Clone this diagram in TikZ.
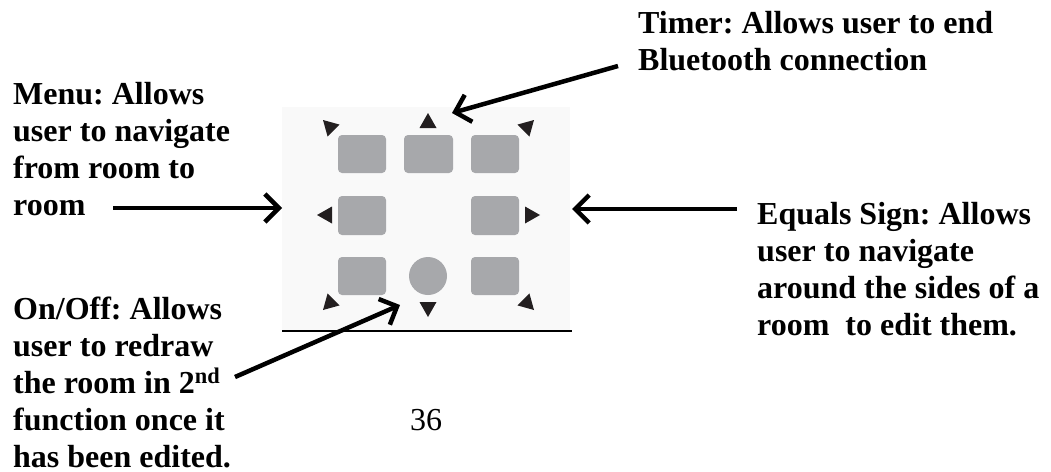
\documentclass[tikz,border=0pt]{standalone}
\usepackage{fontspec}
\setmainfont{Liberation Serif}
\usetikzlibrary{arrows.meta}
\definecolor{keygray}{HTML}{A7A8AB}
\definecolor{panelgray}{HTML}{F9F9F9}
\definecolor{tridark}{HTML}{231F20}
\tikzset{
  keybox/.style={fill=keygray, rounded corners=4pt},
  tri/.style={fill=tridark},
  label/.style={font=\fontsize{32}{37}\selectfont\bfseries\frenchspacing, align=left, anchor=base west, inner sep=0pt},
  callout/.style={line width=4.5pt, -{Straight Barb[length=14pt,width=28pt]}},
}
\begin{document}
\begin{tikzpicture}[x=1pt,y=-1pt]
\useasboundingbox (0,0) rectangle (1051,471);
% panel
\fill[panelgray] (282,107) rectangle (570,331);
% keys
\fill[keybox] (338,135) rectangle (386,173);
\fill[keybox] (404,135) rectangle (453,173);
\fill[keybox] (471,135) rectangle (519,173);
\fill[keybox] (338,196) rectangle (386,235);
\fill[keybox] (471,196) rectangle (519,235);
\fill[keybox] (338,257) rectangle (386,295);
\fill[keygray] (428,276) circle (19);
\fill[keybox] (471,257) rectangle (519,295);
% direction triangles
\fill[tri] (428,113) -- (419.5,128) -- (436.5,128) -- cycle;
\fill[tri] (428,317) -- (419.5,302) -- (436.5,302) -- cycle;
\fill[tri] (317,215) -- (332,206.5) -- (332,223.5) -- cycle;
\fill[tri] (540,215) -- (525,206.5) -- (525,223.5) -- cycle;
\fill[tri] (323,120) -- (339.6,124.6) -- (327.6,136.6) -- cycle;
\fill[tri] (534,120) -- (529.4,136.6) -- (517.4,124.6) -- cycle;
\fill[tri] (323,310) -- (339.6,305.4) -- (327.6,293.4) -- cycle;
\fill[tri] (534,310) -- (529.4,293.4) -- (517.4,305.4) -- cycle;
% base line
\draw[line width=1.5pt] (282,331) -- (572,331);
% labels (anchored at the baseline of the last line)
\node[label] (timer) at (638,70) {Timer: Allows user to end\\Bluetooth connection};
\node[label] (menu) at (13,215) {Menu: Allows\\user to navigate\\from room to\\room};
\node[label] (equals) at (757,335) {Equals Sign: Allows\\user to navigate\\around the sides of a\\room\ \ to edit them.};
\node[label] (onoff) at (13,467) {On/Off: Allows\\user to redraw\\the room in 2\textsuperscript{nd}\\function once it\\has been edited.};
\node[font=\fontsize{32}{37}\selectfont, anchor=base, inner sep=0pt] (page) at (426,430) {36};
% connector end points
\coordinate (timerS) at (618,66);
\coordinate (timerE) at (452,113);
\coordinate (menuS) at (113,208);
\coordinate (menuE) at (282,208);
\coordinate (eqS) at (737,209);
\coordinate (eqE) at (572,209);
\coordinate (onS) at (235,377);
\coordinate (onE) at (400,305);
\draw[callout] (timerS) -- (timerE);
\draw[callout] (menuS) -- (menuE);
\draw[callout] (eqS) -- (eqE);
\draw[callout] (onS) -- (onE);
\end{tikzpicture}
\end{document}
